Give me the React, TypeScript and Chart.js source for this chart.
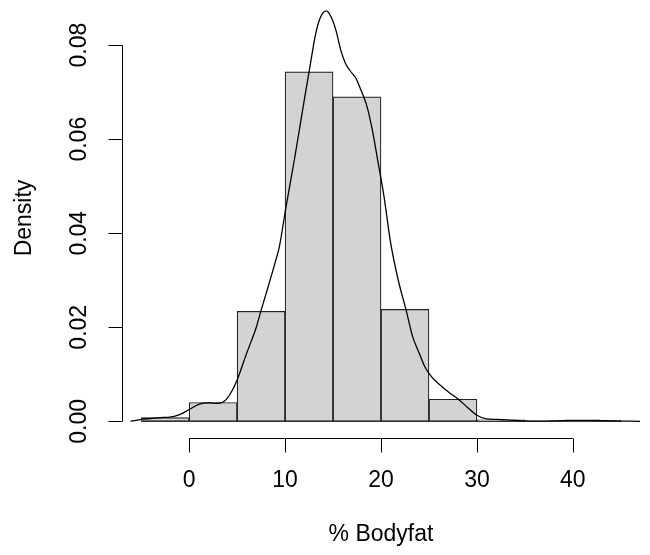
import React, { useEffect, useRef } from "react";
import { Chart, registerables } from "chart.js";

Chart.register(...registerables);

// Histogram bins (left edge) and their densities
const binStarts = [-5, 0, 5, 10, 15, 20, 25, 30, 35, 40];
const binWidth = 5;
const binDensities = [0.0008, 0.004, 0.0234, 0.0743, 0.069, 0.0238, 0.0047, 0.0003, 0, 0.0002];

// Kernel density curve
const densityX = [
  -6.1, -5.5, -5, -4, -3, -2, -1, 0, 1, 2, 3, 3.8, 4.5, 5, 6, 7, 7.5, 8, 9, 9.4, 10.1, 11, 12, 12.5,
  13.2, 13.7, 14.3, 14.8, 15.3, 15.8, 16.3, 16.8, 17.4, 17.8, 18.2, 18.6, 19.1, 19.7, 20.3, 21, 21.8,
  22.6, 23.3, 24, 24.6, 25.3, 26, 27, 28, 29, 30, 31, 32, 33, 34, 35, 36, 37, 38, 39, 40, 41, 42, 43,
  44, 45, 46, 47,
];
const densityY = [
  0.00002, 0.0002, 0.0004, 0.0006, 0.0008, 0.0009, 0.0014, 0.0025, 0.0036, 0.0039, 0.0038, 0.0045,
  0.0066, 0.0088, 0.0145, 0.02, 0.0236, 0.027, 0.034, 0.0371, 0.0456, 0.056, 0.0683, 0.0743, 0.0825,
  0.086, 0.0873, 0.086, 0.0832, 0.079, 0.0761, 0.0745, 0.0729, 0.071, 0.069, 0.0665, 0.0619, 0.055,
  0.048, 0.038, 0.03, 0.0238, 0.018, 0.0144, 0.0115, 0.0094, 0.008, 0.0063, 0.0048, 0.003, 0.0013,
  0.0005, 0.0004, 0.0003, 0.0002, 0.0001, 0.00005, 0.00005, 0.0001, 0.00015, 0.0002, 0.0002, 0.0002,
  0.00015, 0.0001, 0.00005, 0.00002, 0,
];

const xTicks = [0, 10, 20, 30, 40];
const xTickLabels = ["0", "10", "20", "30", "40"];
const yTicks = [0, 0.02, 0.04, 0.06, 0.08];
const yTickLabels = ["0.00", "0.02", "0.04", "0.06", "0.08"];
const xTitle = "% Bodyfat";
const yTitle = "Density";

const FONT = '23px "Liberation Sans", Arial, Helvetica, sans-serif';

const rAxesPlugin = {
  id: "rAxes",
  afterDraw(chart: any) {
    const { ctx, chartArea, scales } = chart;
    const xs = scales.x;
    const ys = scales.y;
    ctx.save();
    ctx.strokeStyle = "#000";
    ctx.fillStyle = "#000";
    ctx.lineWidth = 1;
    ctx.font = FONT;
    const tick = 14;

    // x axis
    const ax = Math.round(chartArea.bottom) + 0.5;
    ctx.beginPath();
    ctx.moveTo(xs.getPixelForValue(xTicks[0]), ax);
    ctx.lineTo(xs.getPixelForValue(xTicks[xTicks.length - 1]), ax);
    xTicks.forEach((v) => {
      const px = Math.round(xs.getPixelForValue(v)) + 0.5;
      ctx.moveTo(px, ax);
      ctx.lineTo(px, ax + tick);
    });
    ctx.stroke();
    ctx.textAlign = "center";
    ctx.textBaseline = "middle";
    xTicks.forEach((v, i) => {
      ctx.fillText(xTickLabels[i], xs.getPixelForValue(v), 481);
    });
    ctx.fillText(xTitle, (chartArea.left + chartArea.right) / 2, 535);

    // y axis
    const ay = Math.round(chartArea.left) + 0.5;
    ctx.beginPath();
    ctx.moveTo(ay, ys.getPixelForValue(yTicks[0]));
    ctx.lineTo(ay, ys.getPixelForValue(yTicks[yTicks.length - 1]));
    yTicks.forEach((v) => {
      const py = Math.round(ys.getPixelForValue(v)) + 0.5;
      ctx.moveTo(ay, py);
      ctx.lineTo(ay - tick, py);
    });
    ctx.stroke();
    yTicks.forEach((v, i) => {
      ctx.save();
      ctx.translate(80, ys.getPixelForValue(v));
      ctx.rotate(-Math.PI / 2);
      ctx.fillText(yTickLabels[i], 0, 0);
      ctx.restore();
    });
    ctx.save();
    ctx.translate(25, 218);
    ctx.rotate(-Math.PI / 2);
    ctx.fillText(yTitle, 0, 0);
    ctx.restore();

    ctx.restore();
  },
};

export default function App() {
  const ref = useRef<HTMLCanvasElement>(null);

  useEffect(() => {
    if (!ref.current) return;
    const bars = binStarts.map((s, i) => ({ x: s + binWidth / 2, y: binDensities[i] }));
    const curve = densityX.map((x, i) => ({ x, y: densityY[i] }));
    const base = [
      { x: binStarts[0], y: 0 },
      { x: binStarts[binStarts.length - 1] + binWidth, y: 0 },
    ];
    const chart = new Chart(ref.current, {
      type: "bar",
      data: {
        datasets: [
          {
            type: "line",
            data: curve,
            borderColor: "#000",
            borderWidth: 1.3,
            pointRadius: 0,
            cubicInterpolationMode: "monotone",
            fill: false,
            order: 0,
          } as any,
          {
            type: "line",
            data: base,
            borderColor: "#222",
            borderWidth: 1,
            pointRadius: 0,
            fill: false,
            order: 1,
          } as any,
          {
            type: "bar",
            data: bars,
            backgroundColor: "#D3D3D3",
            borderColor: "#222",
            borderWidth: 1.2,
            borderSkipped: false,
            barPercentage: 1,
            categoryPercentage: 1,
            grouped: false,
            order: 2,
          } as any,
        ],
      },
      options: {
        animation: false,
        responsive: false,
        devicePixelRatio: 1,
        layout: { padding: { left: 122, right: 10, top: 0, bottom: 117 } },
        plugins: { legend: { display: false }, tooltip: { enabled: false } },
        scales: {
          x: {
            type: "linear",
            min: -7,
            max: 47,
            offset: false,
            display: false,
            ticks: { stepSize: 10, includeBounds: false },
          },
          y: {
            type: "linear",
            min: -0.00355,
            max: 0.0896,
            display: false,
            ticks: { stepSize: 0.02, includeBounds: false },
          },
        },
      },
      plugins: [rAxesPlugin],
    });
    return () => chart.destroy();
  }, []);

  return (
    <div style={{ position: "absolute", left: 0, top: 0, width: 650, height: 555, background: "#fff" }}>
      <canvas ref={ref} width={650} height={555} />
    </div>
  );
}
